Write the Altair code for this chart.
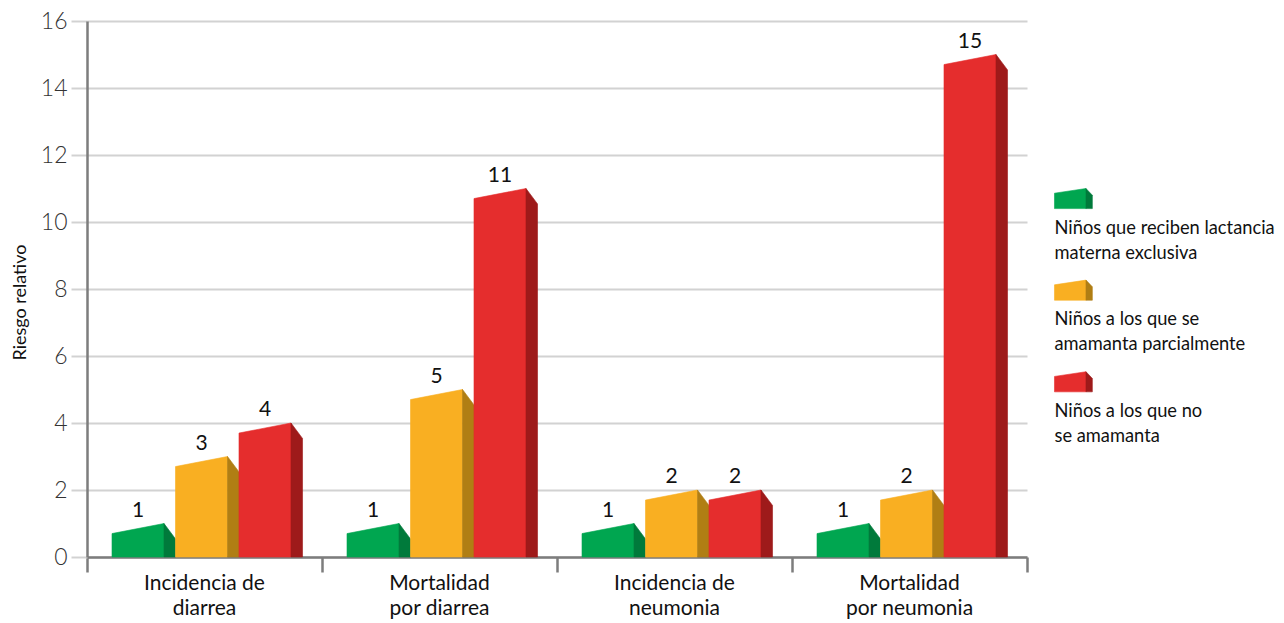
import altair as alt
import pandas as pd

# ---- data ----
categories = ["Incidencia de\ndiarrea", "Mortalidad\npor diarrea",
              "Incidencia de\nneumonia", "Mortalidad\npor neumonia"]
series = ["Niños que reciben lactancia\nmaterna exclusiva",
          "Niños a los que se\namamanta parcialmente",
          "Niños a los que no\nse amamanta"]
exclusiva = [1, 1, 1, 1]
parcial = [3, 5, 2, 2]
ninguna = [4, 11, 2, 15]
values = [exclusiva, parcial, ninguna]

front_colors = ["#00A650", "#F9AF22", "#E52D2D"]
side_colors = ["#007A3B", "#B07E14", "#9E1A1A"]

# ---- layout (in scale units) ----
OFF, FRONT, SIDE, PITCH = 0.1064, 0.2213, 0.049, 0.2702
DROP_F, DROP_S = 0.30, 0.46          # slanted-top depth effect
LEG_X, LEG_FRONT, LEG_SIDE = 4.117, 0.134, 0.027
LEG_BOTTOM0, LEG_STEP = 10.40, 2.735
LEG_H, LEG_DF, LEG_DS = 0.60, 0.14, 0.20

rows, labels, cats = [], [], []
for g, cat in enumerate(categories):
    cats.append({"x": g + 0.5, "y": 0, "text": cat})
    for s in range(len(series)):
        v = values[s][g]
        x0 = g + OFF + s * PITCH
        x1 = x0 + FRONT
        x2 = x1 + SIDE
        fid, sid = f"b{g}{s}f", f"b{g}{s}s"
        rows += [
            {"id": fid, "x": x0, "y": v - DROP_F, "y2": 0, "fill": front_colors[s]},
            {"id": fid, "x": x1, "y": v, "y2": 0, "fill": front_colors[s]},
            {"id": sid, "x": x1, "y": v, "y2": 0, "fill": side_colors[s]},
            {"id": sid, "x": x2, "y": v - DROP_S, "y2": 0, "fill": side_colors[s]},
        ]
        labels.append({"x": (x0 + x1) / 2, "y": v, "text": str(v)})

leg_text = []
for s, name in enumerate(series):
    b = LEG_BOTTOM0 - s * LEG_STEP
    x1 = LEG_X + LEG_FRONT
    fid, sid = f"l{s}f", f"l{s}s"
    rows += [
        {"id": fid, "x": LEG_X, "y": b + LEG_H - LEG_DF, "y2": b, "fill": front_colors[s]},
        {"id": fid, "x": x1, "y": b + LEG_H, "y2": b, "fill": front_colors[s]},
        {"id": sid, "x": x1, "y": b + LEG_H, "y2": b, "fill": side_colors[s]},
        {"id": sid, "x": x1 + LEG_SIDE, "y": b + LEG_H - LEG_DS, "y2": b, "fill": side_colors[s]},
    ]
    leg_text.append({"x": LEG_X, "y": b, "text": name})

bars_df = pd.DataFrame(rows)
labels_df = pd.DataFrame(labels)
cats_df = pd.DataFrame(cats)
leg_df = pd.DataFrame(leg_text)

FONT = "Lato"
xscale = alt.Scale(domain=[0, 4], nice=False, zero=False)
yscale = alt.Scale(domain=[0, 16], nice=False)

faces = alt.Chart(bars_df).mark_area(clip=False, strokeWidth=0.6, interpolate="linear",
                                     orient="vertical").encode(
    x=alt.X("x:Q", scale=xscale, axis=alt.Axis(
        values=[0, 1, 2, 3, 4], labels=False, ticks=True, tickSize=15, tickWidth=2.5,
        tickColor="#7d7d7d", domainColor="#7d7d7d", domainWidth=2.5, grid=False, title=None)),
    y=alt.Y("y:Q", scale=yscale, stack=False, axis=alt.Axis(
        values=list(range(0, 17, 2)), tickSize=16, tickWidth=2, tickColor="#d2d2d2",
        grid=True, gridColor="#d2d2d2", gridWidth=2,
        domainColor="#7d7d7d", domainWidth=2.5,
        labelFont=FONT, labelFontSize=23, labelFontWeight=300, labelColor="#333333",
        labelPadding=4, title="Riesgo relativo", titleFont=FONT, titleFontSize=18,
        titleFontWeight="normal", titleColor="#111111", titlePadding=11, titleY=281)),
    y2="y2:Q",
    detail="id:N",
    color=alt.Color("fill:N", scale=None),
    stroke=alt.Stroke("fill:N", scale=None),
)

value_text = alt.Chart(labels_df).mark_text(
    font=FONT, fontSize=21, color="#111111", baseline="alphabetic", dy=-7, clip=False
).encode(x="x:Q", y="y:Q", text="text:N")

cat_text = alt.Chart(cats_df).mark_text(
    font=FONT, fontSize=21, color="#111111", baseline="alphabetic", dy=33,
    lineBreak="\n", lineHeight=25, clip=False
).encode(x="x:Q", y="y:Q", text="text:N")

legend_text = alt.Chart(leg_df).mark_text(
    font=FONT, fontSize=18.3, color="#111111", baseline="alphabetic", align="left",
    dy=25, lineBreak="\n", lineHeight=25, clip=False
).encode(x="x:Q", y="y:Q", text="text:N")

chart = alt.layer(faces, value_text, cat_text, legend_text).properties(
    width=940, height=536,
    autosize=alt.AutoSizeParams(type="none"),
    padding={"left": 79, "top": 13, "right": 249, "bottom": 66},
).configure_view(stroke=None)

chart.save("out.html", embed_options={"renderer": "svg", "actions": False})
